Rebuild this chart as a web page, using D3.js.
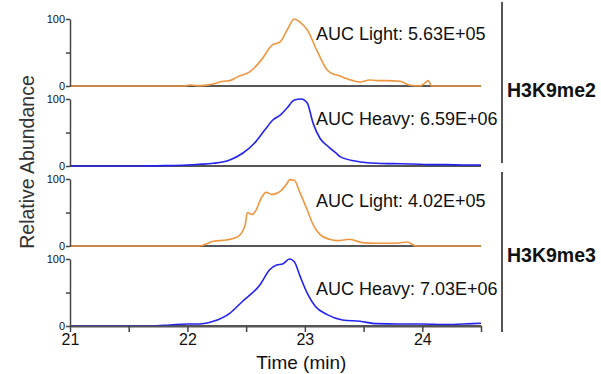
<!DOCTYPE html>
<html>
<head>
<meta charset="utf-8">
<script src="https://cdn.jsdelivr.net/npm/d3@7"></script>
<style>
  body { margin: 0; background: #fff; }
  svg { display: block; font-family: Arial, "Liberation Sans", sans-serif; }
</style>
</head>
<body>
<script>
// retention time (min) and relative abundance (%)
const me2LightT = [21.0, 21.9, 21.97, 22.02, 22.08, 22.15, 22.22, 22.3, 22.36, 22.43, 22.53, 22.63, 22.72, 22.79, 22.85, 22.91, 22.96, 23.02, 23.1, 23.19, 23.24, 23.28, 23.34, 23.41, 23.47, 23.55, 23.62, 23.7, 23.81, 23.89, 23.98, 24.02, 24.05, 24.08, 24.5];
const me2LightV = [0, 0, 0, 1.5, 0.5, 1, 3, 7, 8, 14, 21, 39, 61, 66, 84, 100, 95, 84, 54, 24, 18, 16, 12, 8, 6, 9, 8, 8, 7, 1.5, 0, 4, 8, 0, 0];

const me2HeavyT = [21.0, 21.6, 21.8, 22.0, 22.1, 22.22, 22.36, 22.47, 22.57, 22.66, 22.73, 22.79, 22.85, 22.91, 22.97, 23.02, 23.07, 23.13, 23.2, 23.28, 23.3, 23.44, 23.61, 23.75, 23.92, 24.05, 24.2, 24.35, 24.5];
const me2HeavyV = [0, 0, 0.5, 1.5, 2.5, 4, 9, 19, 34, 54, 69, 76, 87, 98.5, 100, 94, 64, 41, 29, 17, 14, 7, 4, 3.5, 3, 2, 2, 1.5, 1.5];

const me3LightT = [21.0, 22.1, 22.16, 22.22, 22.33, 22.42, 22.49, 22.51, 22.55, 22.58, 22.63, 22.67, 22.72, 22.8, 22.85, 22.87, 22.91, 22.96, 23.02, 23.07, 23.13, 23.21, 23.28, 23.38, 23.49, 23.6, 23.72, 23.8, 23.87, 23.92, 23.95, 24.5];
const me3LightV = [0, 0, 3, 7, 9, 13, 30, 50, 47, 52, 72, 80, 77, 83, 94, 99, 98, 79, 54, 32, 17, 10, 8, 10, 5, 4, 4, 4.5, 6, 2, 0, 0];

const me3HeavyT = [21.0, 21.7, 21.85, 22.0, 22.1, 22.22, 22.36, 22.47, 22.62, 22.7, 22.76, 22.81, 22.87, 22.91, 22.96, 23.02, 23.09, 23.19, 23.32, 23.47, 23.61, 23.8, 24.0, 24.2, 24.35, 24.5];
const me3HeavyV = [0, 0, 1.5, 3, 3, 7, 19, 37, 62, 84, 91, 92.5, 100, 96, 74, 49, 29, 17, 9, 7, 3.5, 3, 3, 2, 3, 4];

const aucLabels = ["AUC Light: 5.63E+05", "AUC Heavy: 6.59E+06", "AUC Light: 4.02E+05", "AUC Heavy: 7.03E+06"];
const groupLabels = ["H3K9me2", "H3K9me3"];
const xTicks = [21, 21.5, 22, 22.5, 23, 23.5, 24, 24.5];

const width = 601, height = 374;
const orange = "#ef9640", blue = "#2323ee", axisCol = "#444";
const font = "Arial, 'Liberation Sans', sans-serif";

const panels = [
  {t: me2LightT, v: me2LightV, color: orange, top: 19, label: aucLabels[0], ty: 21},
  {t: me2HeavyT, v: me2HeavyV, color: blue, top: 99, label: aucLabels[1], ty: 26},
  {t: me3LightT, v: me3LightV, color: orange, top: 179, label: aucLabels[2], ty: 28},
  {t: me3HeavyT, v: me3HeavyV, color: blue, top: 259, label: aucLabels[3], ty: 36}
];
const panelH = 67;

const svg = d3.select("body").append("svg").attr("width", width).attr("height", height);
const x = d3.scaleLinear().domain([21, 24.5]).range([70, 481]);

panels.forEach((p, i) => {
  const y = d3.scaleLinear().domain([0, 100]).range([p.top + panelH, p.top]);
  const g = svg.append("g");

  // baseline
  g.append("line")
    .attr("x1", x.range()[0]).attr("x2", x.range()[1])
    .attr("y1", y(0)).attr("y2", y(0))
    .attr("stroke", "#555").attr("stroke-width", 2);

  const pts = p.t.map((t, k) => [t, p.v[k]]);
  g.append("path")
    .datum(pts)
    .attr("fill", "none")
    .attr("stroke", p.color)
    .attr("stroke-width", 1.6)
    .attr("stroke-linejoin", "round")
    .attr("d", d3.line().x(d => x(d[0])).y(d => y(d[1])).curve(d3.curveMonotoneX));

  const ya = g.append("g")
    .attr("transform", `translate(${x(21)},0)`)
    .call(d3.axisLeft(y).tickValues([0, 50, 100]).tickSize(4).tickSizeOuter(0)
      .tickFormat(d => d === 50 ? "" : d));
  ya.attr("font-size", 11).attr("font-family", font);
  ya.select(".domain").attr("stroke", axisCol).attr("stroke-width", 1.5);
  ya.selectAll(".tick line").attr("stroke", axisCol).attr("stroke-width", 1.5);
  ya.selectAll(".tick text").attr("fill", "#111").attr("x", -5);

  g.append("text")
    .attr("x", 316).attr("y", p.top + p.ty)
    .attr("font-size", 18).attr("fill", "#111")
    .text(p.label);

  if (i === 3) {
    const xa = g.append("g")
      .attr("transform", `translate(0,${y(0)})`)
      .call(d3.axisBottom(x).tickValues(xTicks).tickSize(6).tickSizeOuter(0)
        .tickFormat(d => Number.isInteger(d) ? d : ""));
    xa.attr("font-size", 16).attr("font-family", font);
    xa.select(".domain").attr("stroke", "#555").attr("stroke-width", 2);
    xa.selectAll(".tick line").attr("stroke", axisCol).attr("stroke-width", 1.5);
    xa.selectAll(".tick text").attr("fill", "#111").attr("y", 8);
  }
});

svg.append("text")
  .attr("x", x(22.97)).attr("y", 369)
  .attr("text-anchor", "middle").attr("font-size", 19).attr("fill", "#111")
  .text("Time (min)");

svg.append("text")
  .attr("transform", "translate(34,162) rotate(-90)")
  .attr("text-anchor", "middle").attr("font-size", 19.5).attr("fill", "#333")
  .text("Relative Abundance");

// group brackets on the right
const brackets = [[2, 163], [172, 332]];
brackets.forEach((b, i) => {
  svg.append("line")
    .attr("x1", 502).attr("x2", 502).attr("y1", b[0]).attr("y2", b[1])
    .attr("stroke", "#555").attr("stroke-width", 2);
  svg.append("text")
    .attr("x", 507).attr("y", i === 0 ? 97 : 262)
    .attr("font-size", 19.5).attr("font-weight", "bold").attr("fill", "#111")
    .text(groupLabels[i]);
});
</script>
</body>
</html>
